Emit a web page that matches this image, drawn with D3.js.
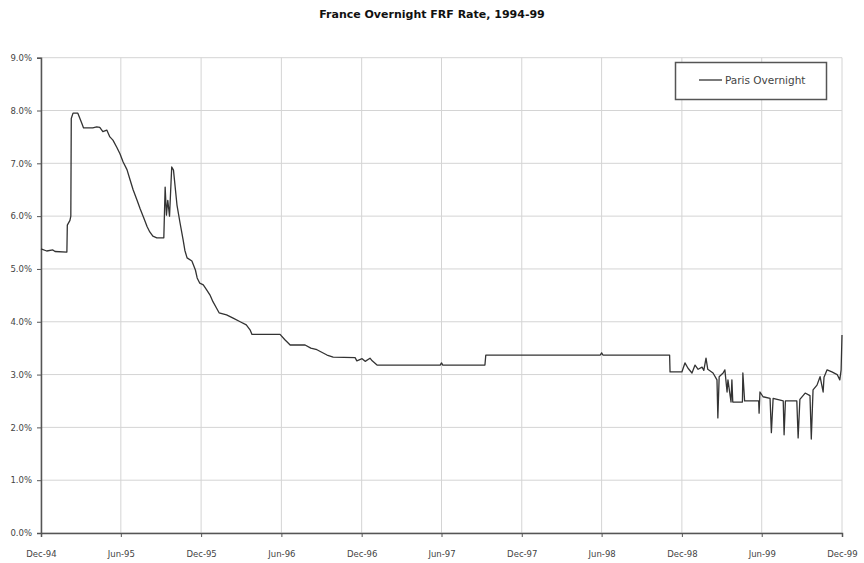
<!DOCTYPE html>
<html>
<head>
<meta charset="utf-8">
<script src="https://cdn.jsdelivr.net/npm/d3@7"></script>
<style>
  html, body { margin: 0; padding: 0; background: #fff; }
  svg { display: block; }
</style>
</head>
<body>
<svg id="chart" width="864" height="563"></svg>
<script>
const chartTitle = "France Overnight FRF Rate, 1994-99";
const seriesName = "Paris Overnight";
const xTickLabels = ["Dec-94","Jun-95","Dec-95","Jun-96","Dec-96","Jun-97","Dec-97","Jun-98","Dec-98","Jun-99","Dec-99"];
const yTickValues = [0,1,2,3,4,5,6,7,8,9];

const dates = [
  "1994-12-01","1994-12-14","1994-12-28","1995-01-02","1995-01-29","1995-01-30","1995-02-05","1995-02-07","1995-02-08","1995-02-12",
  "1995-02-23","1995-03-04","1995-03-08","1995-03-29","1995-04-07","1995-04-14","1995-04-21","1995-04-30","1995-05-07","1995-05-14",
  "1995-05-23","1995-05-30","1995-06-06","1995-06-15","1995-06-22","1995-06-29","1995-07-08","1995-07-15","1995-07-24","1995-07-31",
  "1995-08-06","1995-08-13","1995-08-22","1995-09-07","1995-09-10","1995-09-13","1995-09-16","1995-09-20","1995-09-25","1995-09-29",
  "1995-10-07","1995-10-14","1995-10-21","1995-10-25","1995-10-30","1995-11-10","1995-11-18","1995-11-22","1995-11-28","1995-12-06",
  "1995-12-14","1995-12-21","1995-12-28","1996-01-05","1996-01-11","1996-01-28","1996-02-12","1996-02-28","1996-03-13","1996-03-22",
  "1996-03-26","1996-05-29","1996-06-09","1996-06-21","1996-07-25","1996-08-07","1996-08-21","1996-09-13","1996-09-27","1996-11-16",
  "1996-11-20","1996-12-02","1996-12-09","1996-12-20","1996-12-25","1997-01-05","1997-05-29","1997-06-01","1997-06-04","1997-09-08",
  "1997-09-10","1998-05-29","1998-06-01","1998-06-04","1998-11-03","1998-11-04","1998-12-01","1998-12-08","1998-12-15","1998-12-24",
  "1998-12-31","1999-01-07","1999-01-16","1999-01-20","1999-01-25","1999-01-29","1999-02-10","1999-02-19","1999-02-21","1999-02-24",
  "1999-03-05","1999-03-09","1999-03-14","1999-03-16","1999-03-23","1999-03-25","1999-03-27","1999-04-18","1999-04-19","1999-04-23",
  "1999-05-25","1999-05-26","1999-05-28","1999-06-04","1999-06-20","1999-06-23","1999-06-27","1999-07-20","1999-07-22","1999-07-25",
  "1999-08-20","1999-08-23","1999-08-27","1999-09-08","1999-09-19","1999-09-22","1999-09-26","1999-10-05","1999-10-12","1999-10-19",
  "1999-10-21","1999-10-28","1999-11-08","1999-11-20","1999-11-26","1999-11-29","1999-12-01"
];
const rates = [
  5.38,5.34,5.36,5.33,5.32,5.83,5.92,6.00,7.85,7.95,
  7.95,7.76,7.67,7.67,7.69,7.68,7.60,7.63,7.50,7.44,
  7.30,7.18,7.03,6.88,6.69,6.50,6.30,6.14,5.95,5.80,
  5.70,5.62,5.59,5.59,6.55,6.02,6.30,6.00,6.93,6.87,
  6.21,5.87,5.55,5.35,5.21,5.15,4.98,4.83,4.73,4.70,
  4.60,4.51,4.38,4.26,4.17,4.13,4.07,4.00,3.94,3.84,
  3.76,3.76,3.66,3.56,3.56,3.50,3.47,3.37,3.33,3.32,
  3.26,3.30,3.25,3.31,3.26,3.18,3.18,3.22,3.18,3.18,
  3.37,3.37,3.41,3.37,3.37,3.05,3.05,3.22,3.12,3.03,
  3.18,3.10,3.14,3.08,3.31,3.10,3.03,2.90,2.18,2.96,
  3.03,3.09,2.67,2.90,2.48,2.90,2.48,2.48,3.03,2.50,
  2.50,2.27,2.67,2.58,2.55,1.90,2.55,2.50,1.86,2.50,
  2.50,1.80,2.53,2.65,2.60,1.78,2.71,2.80,2.96,2.67,
  2.95,3.09,3.05,3.00,2.90,3.09,3.75
];

const parseDay = d3.timeParse("%Y-%m-%d");
const parseTick = d3.timeParse("%b-%y");
const data = dates.map((d, i) => ({ date: parseDay(d), value: rates[i] }));
const tickDates = xTickLabels.map(parseTick);

const svg = d3.select("#chart");
const plotLeft = 41, plotRight = 842, plotTop = 57.7, plotBottom = 533;

const x = d3.scaleTime()
  .domain([tickDates[0], tickDates[tickDates.length - 1]])
  .range([plotLeft, plotRight]);
const y = d3.scaleLinear().domain([0, 9]).range([plotBottom, plotTop]);

const font = "'DejaVu Sans', Verdana, sans-serif";

// gridlines
svg.append("g").selectAll("line").data(yTickValues).join("line")
  .attr("x1", plotLeft).attr("x2", plotRight)
  .attr("y1", d => y(d)).attr("y2", d => y(d))
  .attr("stroke", "#d4d4d4").attr("stroke-width", 1);
svg.append("g").selectAll("line").data(tickDates).join("line")
  .attr("x1", d => x(d)).attr("x2", d => x(d))
  .attr("y1", plotTop).attr("y2", plotBottom)
  .attr("stroke", "#d4d4d4").attr("stroke-width", 1);

// axes
const xAxis = d3.axisBottom(x).tickValues(tickDates)
  .tickFormat((d, i) => xTickLabels[i]).tickSize(4).tickPadding(14);
const gx = svg.append("g").attr("transform", `translate(0,${plotBottom})`).call(xAxis);
gx.select(".domain").attr("stroke", "#555").attr("stroke-width", 1.5);
gx.selectAll(".tick line").attr("stroke", "#555");
gx.selectAll("text").attr("font-family", font).attr("font-size", 8.5).attr("fill", "#444");

const yAxis = d3.axisLeft(y).tickValues(yTickValues)
  .tickFormat(d => d.toFixed(1) + "%").tickSize(4).tickPadding(5);
const gy = svg.append("g").attr("transform", `translate(${plotLeft},0)`).call(yAxis);
gy.select(".domain").attr("stroke", "#555").attr("stroke-width", 1.5);
gy.selectAll(".tick line").attr("stroke", "#555");
gy.selectAll("text").attr("font-family", font).attr("font-size", 8.5).attr("fill", "#444");

// line
const line = d3.line().x(d => x(d.date)).y(d => y(d.value)).curve(d3.curveLinear);
svg.append("path").datum(data)
  .attr("fill", "none").attr("stroke", "#333").attr("stroke-width", 1.3)
  .attr("stroke-linejoin", "round")
  .attr("d", line);

// title
svg.append("text").attr("x", 432).attr("y", 18)
  .attr("text-anchor", "middle").attr("font-family", font)
  .attr("font-weight", "bold").attr("font-size", 11).attr("fill", "#111")
  .text(chartTitle);

// legend
const lg = svg.append("g");
lg.append("rect").attr("x", 675.5).attr("y", 62.5).attr("width", 151).attr("height", 37)
  .attr("fill", "#fff").attr("stroke", "#555").attr("stroke-width", 1.5);
lg.append("line").attr("x1", 699).attr("x2", 722).attr("y1", 80).attr("y2", 80)
  .attr("stroke", "#333").attr("stroke-width", 1.3);
lg.append("text").attr("x", 725).attr("y", 83.5)
  .attr("font-family", font).attr("font-size", 10.5).attr("fill", "#444")
  .text(seriesName);
</script>
</body>
</html>
